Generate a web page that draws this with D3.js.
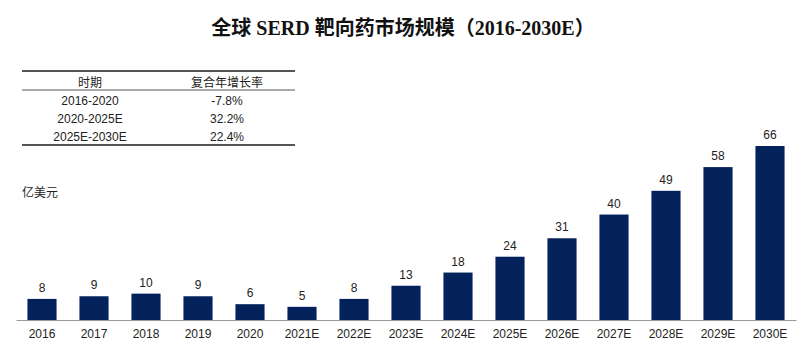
<!DOCTYPE html>
<html>
<head>
<meta charset="utf-8">
<script src="https://cdn.jsdelivr.net/npm/d3@7"></script>
<style>
body { margin: 0; background: #fff; }
text { font-family: "Liberation Sans", Arial, "Noto Sans CJK SC", sans-serif; fill: #222; }
</style>
</head>
<body>
<div id="chart"></div>
<script>
const years = ["2016", "2017", "2018", "2019", "2020", "2021E", "2022E", "2023E", "2024E", "2025E", "2026E", "2027E", "2028E", "2029E", "2030E"];
const values = [8, 9, 10, 9, 6, 5, 8, 13, 18, 24, 31, 40, 49, 58, 66];
const periods = ["2016-2020", "2020-2025E", "2025E-2030E"];
const cagr = ["-7.8%", "32.2%", "22.4%"];

const width = 810, height = 361;

const svg = d3.select("#chart")
    .append("svg")
    .attr("width", width)
    .attr("height", height);

// title
svg.append("text")
    .attr("x", 403)
    .attr("y", 35)
    .attr("text-anchor", "middle")
    .style("font-family", "'Liberation Serif', 'Noto Sans CJK SC', serif")
    .style("font-weight", "bold")
    .style("font-size", "20px")
    .style("fill", "#111")
    .text("全球 SERD 靶向药市场规模（2016-2030E）");

const x = d3.scaleBand()
    .domain(years)
    .range([16, 796])
    .paddingInner(0.44)
    .paddingOuter(0.22);

const y = d3.scaleLinear()
    .domain([0, 66])
    .range([320, 146]);

svg.selectAll("rect.bar")
    .data(values)
    .enter()
    .append("rect")
    .attr("class", "bar")
    .attr("x", (d, i) => x(years[i]))
    .attr("y", (d) => y(d))
    .attr("width", x.bandwidth())
    .attr("height", (d) => y(0) - y(d))
    .style("fill", "#03215b");

svg.selectAll("text.val")
    .data(values)
    .enter()
    .append("text")
    .attr("class", "val")
    .attr("x", (d, i) => x(years[i]) + x.bandwidth() / 2)
    .attr("y", (d) => y(d) - 7)
    .attr("text-anchor", "middle")
    .style("font-size", "12px")
    .text((d) => d);

// x axis
const xAxis = svg.append("g")
    .attr("transform", "translate(0,320)")
    .call(d3.axisBottom(x).tickSize(0).tickPadding(9));
xAxis.select(".domain").attr("stroke", "#999").attr("stroke-width", 1.2);
xAxis.selectAll("text")
    .style("font-size", "12px")
    .style("font-family", "'Liberation Sans', Arial, sans-serif")
    .style("fill", "#222");

// unit
svg.append("text")
    .attr("x", 22)
    .attr("y", 197)
    .style("font-size", "12px")
    .text("亿美元");

// CAGR table
const tbl = svg.append("g");
const col1 = 90, col2 = 227;
tbl.append("line").attr("x1", 22).attr("x2", 295).attr("y1", 71).attr("y2", 71)
    .attr("stroke", "#555").attr("stroke-width", 2);
tbl.append("line").attr("x1", 22).attr("x2", 295).attr("y1", 90).attr("y2", 90)
    .attr("stroke", "#555").attr("stroke-width", 1);
tbl.append("line").attr("x1", 22).attr("x2", 295).attr("y1", 145).attr("y2", 145)
    .attr("stroke", "#555").attr("stroke-width", 2);

tbl.append("text").attr("x", col1).attr("y", 87).attr("text-anchor", "middle")
    .style("font-size", "12px").text("时期");
tbl.append("text").attr("x", col2).attr("y", 87).attr("text-anchor", "middle")
    .style("font-size", "12px").text("复合年增长率");

periods.forEach((p, i) => {
    const ty = 105 + i * 18;
    tbl.append("text").attr("x", col1).attr("y", ty).attr("text-anchor", "middle")
        .style("font-size", "12px").text(p);
    tbl.append("text").attr("x", col2).attr("y", ty).attr("text-anchor", "middle")
        .style("font-size", "12px").text(cagr[i]);
});
</script>
</body>
</html>
